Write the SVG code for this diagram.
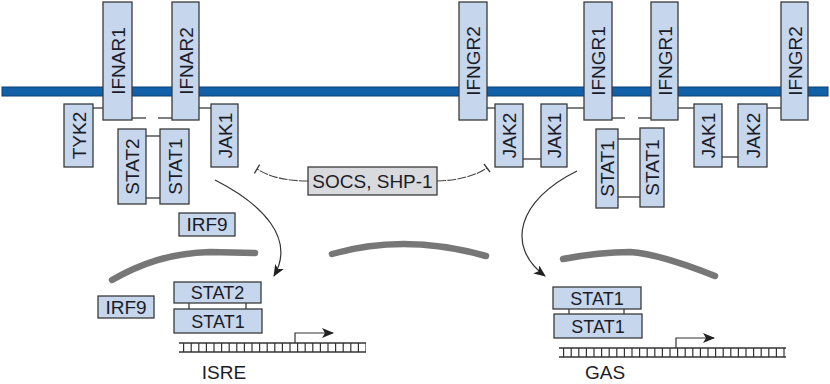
<svg xmlns="http://www.w3.org/2000/svg" width="830" height="384" viewBox="0 0 830 384">
<defs>
<style>
.b{fill:#c6d6ec;stroke:#3a3a3a;stroke-width:1.3}
.g{fill:#d9dade;stroke:#3a3a3a;stroke-width:1.3}
.t{font-family:"Liberation Sans",Arial,sans-serif;font-size:19px;fill:#1c1c28;text-anchor:middle}
.th{font-family:"Liberation Sans",Arial,sans-serif;font-size:18px;fill:#1c1c28;text-anchor:middle}
.c{stroke:#3a3a3a;stroke-width:1.3;fill:none}
.chr{stroke:#777;stroke-width:6.5;fill:none;stroke-linecap:round}
.ar{stroke:#333;stroke-width:1.2;fill:none}
.inh{stroke:#444;stroke-width:1.1;fill:none;stroke-dasharray:9 1.2}
.dna{stroke:#333;stroke-width:1.5;fill:none}
</style>
<marker id="ah" markerWidth="12" markerHeight="10" refX="11" refY="5" orient="auto" markerUnits="userSpaceOnUse">
<path d="M0,0 L12,5 L0,10 L3,5 Z" fill="#222"/>
</marker>
</defs>
<rect width="830" height="384" fill="#fff"/>
<g id="membrane">
<rect x="2" y="87" width="826" height="9" fill="#1260a8" stroke="#0a3f75" stroke-width="1"/>
</g>
<g id="connectors">
<line class="c" x1="93" y1="108" x2="103" y2="108"/>
<line class="c" x1="199" y1="108" x2="211" y2="108"/>
<line class="c" x1="132" y1="118" x2="146" y2="118"/>
<line class="c" x1="158" y1="118" x2="172" y2="118"/>
<line class="c" x1="146" y1="136" x2="160" y2="136"/>
<line class="c" x1="146" y1="198" x2="160" y2="198"/>
<line class="c" x1="487" y1="108" x2="495" y2="108"/>
<line class="c" x1="523" y1="159" x2="541" y2="159"/>
<line class="c" x1="567" y1="108" x2="584" y2="108"/>
<line class="c" x1="612" y1="118" x2="625" y2="118"/>
<line class="c" x1="638" y1="118" x2="651" y2="118"/>
<line class="c" x1="618" y1="139" x2="640" y2="139"/>
<line class="c" x1="618" y1="197" x2="640" y2="197"/>
<line class="c" x1="678" y1="108" x2="694" y2="108"/>
<line class="c" x1="722" y1="157" x2="738" y2="157"/>
<line class="c" x1="767" y1="108" x2="781" y2="108"/>
<line class="c" x1="189" y1="303" x2="189" y2="309"/>
<line class="c" x1="246" y1="303" x2="246" y2="309"/>
<line class="c" x1="569" y1="309" x2="569" y2="314"/>
<line class="c" x1="624" y1="309" x2="624" y2="314"/>
<path class="ar" d="M215,180 C262,204 296,238 274,276" marker-end="url(#ah)"/>
<path class="ar" d="M577,171 C518,200 505,246 545,276" marker-end="url(#ah)"/>
<path class="inh" d="M308,181 Q276,181 257,169"/>
<line class="c" x1="254.4" y1="173.3" x2="259.6" y2="164.7" stroke-width="1.2"/>
<path class="inh" d="M437,181 Q469,180 487,168"/>
<line class="c" x1="484" y1="164" x2="490" y2="172" stroke-width="1.2"/>
</g>
<g id="chromatin">
<path class="chr" d="M112,280 C140,264 170,253 210,252 L255,253"/>
<path class="chr" d="M332,254 Q405,233 486,256"/>
<path class="chr" d="M563,259 Q600,252 630,252 Q660,254 715,276"/>
</g>
<g id="IFNAR1"><rect class="b" x="103" y="2" width="29" height="118"/><text class="t" transform="translate(117.5,61) rotate(-90)" y="7">IFNAR1</text></g>
<g id="IFNAR2"><rect class="b" x="172" y="2" width="27" height="118"/><text class="t" transform="translate(185.5,61) rotate(-90)" y="7">IFNAR2</text></g>
<g id="TYK2"><rect class="b" x="64" y="104" width="29" height="63"/><text class="t" transform="translate(78.5,135.5) rotate(-90)" y="7">TYK2</text></g>
<g id="JAK1a"><rect class="b" x="211" y="104" width="27" height="63"/><text class="t" transform="translate(224.5,135.5) rotate(-90)" y="7">JAK1</text></g>
<g id="STAT2v"><rect class="b" x="118" y="129" width="28" height="75"/><text class="t" transform="translate(132,166.5) rotate(-90)" y="7">STAT2</text></g>
<g id="STAT1v"><rect class="b" x="160" y="129" width="29" height="75"/><text class="t" transform="translate(174.5,166.5) rotate(-90)" y="7">STAT1</text></g>
<g id="IRF9a"><rect class="b" x="179" y="213" width="56" height="23"/><text class="t" x="207" y="231">IRF9</text></g>
<g id="IFNGR2a"><rect class="b" x="459" y="2" width="28" height="118"/><text class="t" transform="translate(473,61) rotate(-90)" y="7">IFNGR2</text></g>
<g id="JAK2a"><rect class="b" x="495" y="104" width="28" height="63"/><text class="t" transform="translate(509,135.5) rotate(-90)" y="7">JAK2</text></g>
<g id="JAK1b"><rect class="b" x="541" y="104" width="26" height="63"/><text class="t" transform="translate(554,135.5) rotate(-90)" y="7">JAK1</text></g>
<g id="IFNGR1a"><rect class="b" x="584" y="2" width="28" height="118"/><text class="t" transform="translate(598,61) rotate(-90)" y="7">IFNGR1</text></g>
<g id="IFNGR1b"><rect class="b" x="651" y="2" width="27" height="118"/><text class="t" transform="translate(664.5,61) rotate(-90)" y="7">IFNGR1</text></g>
<g id="STAT1va"><rect class="b" x="596" y="129" width="22" height="79"/><text class="t" transform="translate(607,168.5) rotate(-90)" y="7">STAT1</text></g>
<g id="STAT1vb"><rect class="b" x="640" y="128" width="24" height="79"/><text class="t" transform="translate(652,167.5) rotate(-90)" y="7">STAT1</text></g>
<g id="JAK1c"><rect class="b" x="694" y="104" width="28" height="63"/><text class="t" transform="translate(708,135.5) rotate(-90)" y="7">JAK1</text></g>
<g id="JAK2b"><rect class="b" x="738" y="104" width="29" height="63"/><text class="t" transform="translate(752.5,135.5) rotate(-90)" y="7">JAK2</text></g>
<g id="IFNGR2b"><rect class="b" x="781" y="2" width="27" height="118"/><text class="t" transform="translate(794.5,61) rotate(-90)" y="7">IFNGR2</text></g>
<g id="SOCS"><rect class="g" x="308" y="167" width="129" height="28"/><text class="t" x="372.5" y="188">SOCS, SHP-1</text></g>
<g id="IRF9b"><rect class="b" x="98" y="296" width="56" height="22"/><text class="t" x="126" y="314">IRF9</text></g>
<g id="STAT2h"><rect class="b" x="174" y="282" width="87" height="21"/><text class="th" x="217.5" y="299">STAT2</text></g>
<g id="STAT1h"><rect class="b" x="174" y="309" width="88" height="24"/><text class="th" x="218" y="327.5">STAT1</text></g>
<g id="STAT1hb"><rect class="b" x="553" y="287" width="88" height="22"/><text class="th" x="597" y="304.5">STAT1</text></g>
<g id="STAT1hc"><rect class="b" x="554" y="314" width="88" height="24"/><text class="th" x="598" y="332.5">STAT1</text></g>
<g id="ISRE">
<line class="dna" x1="179" y1="343" x2="366" y2="343"/>
<line class="dna" x1="179" y1="352" x2="366" y2="352"/>
<line x1="183" y1="347.5" x2="366" y2="347.5" stroke="#333" stroke-width="9" stroke-dasharray="1.2 6.4"/>
<path class="ar" d="M295,343 V333 H333" marker-end="url(#ah)"/>
<text class="t" x="224" y="379">ISRE</text>
</g>
<g id="GAS">
<line class="dna" x1="559" y1="348" x2="786" y2="348"/>
<line class="dna" x1="559" y1="357" x2="786" y2="357"/>
<line x1="563" y1="352.5" x2="787" y2="352.5" stroke="#333" stroke-width="9" stroke-dasharray="1.2 6.4"/>
<path class="ar" d="M676,348 V338 H714" marker-end="url(#ah)"/>
<text class="t" x="605" y="379">GAS</text>
</g>
</svg>
